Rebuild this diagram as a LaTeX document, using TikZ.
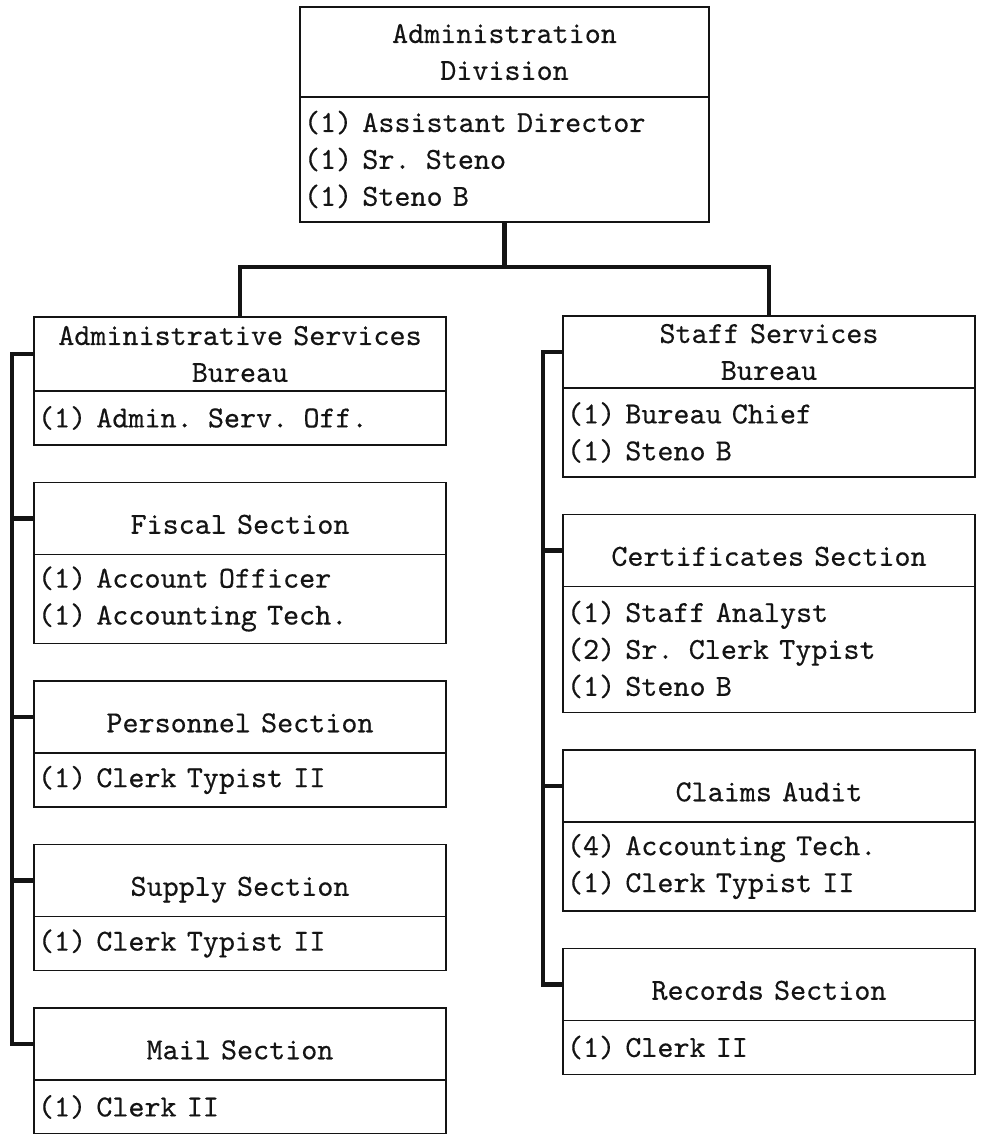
\documentclass[tikz,border=0pt]{standalone}
\usepackage{fontspec}
\usepackage{xcolor}
\usepackage{tikz}
\usetikzlibrary{positioning}
\definecolor{inkmain}{HTML}{141414}
\newfontfamily\orgfamily{lmmono10-regular.otf}[FakeBold=0.4]
\newcommand{\orgfont}{\orgfamily\fontsize{17.4}{21}\selectfont}
\tikzset{
  orgbox/.style={draw=inkmain,line width=1.1pt,minimum width=8.24cm,
    text width=8.08cm,inner xsep=0.08cm,inner ysep=0pt,outer sep=0pt,
    font=\orgfont,text=inkmain},
  titlebox/.style={orgbox,align=center,minimum height=#1},
  titlebox/.default=1.44cm,
  sectionbox/.style={titlebox,text height=0.61cm,text depth=0pt},
  staffbox/.style={orgbox,align=left,minimum height=#1},
  staffbox/.default=1.08cm,
  link/.style={draw=inkmain,line width=2.8pt}
}

\begin{document}
\begin{tikzpicture}[node distance=0.75cm]
  \useasboundingbox (0,0) rectangle (19.62,-22.68);
  % division head
  \node[titlebox=1.8cm,minimum width=8.18cm,text width=8.02cm,anchor=north]
    (adm) at (10.09,-0.14) {Administration\\Division};
  \node[staffbox=2.5cm,minimum width=8.18cm,text width=8.02cm,below=0pt of adm]
    (admstaff) {(1) Assistant Director\\(1) Sr. Steno\\(1) Steno B};

  % left column
  \node[titlebox=1.48cm,anchor=north] (asb) at (4.8,-6.34)
    {Administrative Services\\Bureau};
  \node[staffbox,below=0pt of asb] (asbstaff) {(1) Admin. Serv. Off.};
  \node[sectionbox,below=of asbstaff] (fiscal) {Fiscal Section};
  \node[staffbox=1.78cm,below=0pt of fiscal] (fiscalstaff)
    {(1) Account Officer\\(1) Accounting Tech.};
  \node[sectionbox,below=of fiscalstaff] (personnel) {Personnel Section};
  \node[staffbox,below=0pt of personnel] (personnelstaff) {(1) Clerk Typist II};
  \node[sectionbox,below=of personnelstaff] (supply) {Supply Section};
  \node[staffbox,below=0pt of supply] (supplystaff) {(1) Clerk Typist II};
  \node[sectionbox,below=of supplystaff] (mail) {Mail Section};
  \node[staffbox,below=0pt of mail] (mailstaff) {(1) Clerk II};

  % right column
  \node[titlebox,anchor=north] (ssb) at (15.38,-6.32) {Staff Services\\Bureau};
  \node[staffbox=1.78cm,below=0pt of ssb] (ssbstaff)
    {(1) Bureau Chief\\(1) Steno B};
  \node[sectionbox,below=of ssbstaff] (cert) {Certificates Section};
  \node[staffbox=2.52cm,below=0pt of cert] (certstaff)
    {(1) Staff Analyst\\(2) Sr. Clerk Typist\\(1) Steno B};
  \node[sectionbox,below=of certstaff] (claims) {Claims Audit};
  \node[staffbox=1.78cm,below=0pt of claims] (claimsstaff)
    {(4) Accounting Tech.\\(1) Clerk Typist II};
  \node[sectionbox,below=of claimsstaff] (records) {Records Section};
  \node[staffbox,below=0pt of records] (recordsstaff) {(1) Clerk II};

  % connectors
  \draw[link] (asb.north) -- ++(0,1.0) coordinate (bar) -| (ssb.north);
  \draw[link] (admstaff.south) -- (admstaff.south |- bar);
  \coordinate (lspine) at (0.24,0);
  \coordinate (rspine) at (10.86,0);
  \draw[link] (asb.west) -- (asb.west -| lspine) -- (mail.west -| lspine)
    -- (mail.west);
  \foreach \sec in {fiscal,personnel,supply}
    \draw[link] (\sec.west) -- (\sec.west -| lspine);
  \draw[link] (ssb.west) -- (ssb.west -| rspine) -- (records.west -| rspine)
    -- (records.west);
  \foreach \sec in {cert,claims}
    \draw[link] (\sec.west) -- (\sec.west -| rspine);
\end{tikzpicture}
\end{document}
